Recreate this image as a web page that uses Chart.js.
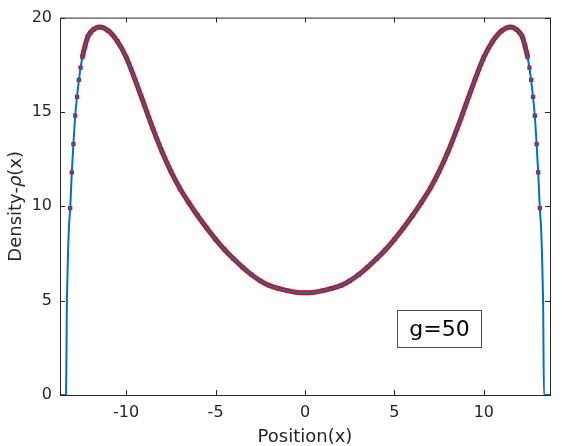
<!DOCTYPE html>
<html>
<head>
<meta charset="utf-8">
<script src="https://cdn.jsdelivr.net/npm/chart.js@4.4.1/dist/chart.umd.min.js"></script>
<style>
  html, body { margin: 0; padding: 0; background: #fff; }
  #wrap { width: 562px; height: 446px; }
</style>
</head>
<body>
<div id="wrap"><canvas id="chart" width="562" height="446"></canvas></div>
<script>
// solid curve (blue)
const xLine = [-13.7, -13.36, -13.32, -13.28, -13.24, -13.2, -13.13, -13.04, -12.95, -12.85, -12.75, -12.6, -12.45, -12.3, -12.15, -12.0, -11.85, -11.5, -11.0, -10.5, -10.0, -9.5, -9.0, -8.5, -8.0, -7.5, -7.0, -6.5, -6.0, -5.5, -5.0, -4.5, -4.0, -3.5, -3.0, -2.5, -2.0, -1.5, -1.0, -0.5, 0,
  0.5, 1.0, 1.5, 2.0, 2.5, 3.0, 3.5, 4.0, 4.5, 5.0, 5.5, 6.0, 6.5, 7.0, 7.5, 8.0, 8.5, 9.0, 9.5, 10.0, 10.5, 11.0, 11.5, 11.85, 12.0, 12.15, 12.3, 12.45, 12.6, 12.75, 12.85, 12.95, 13.04, 13.13, 13.2, 13.24, 13.28, 13.32, 13.36, 13.7];
const rhoLine = [0, 0, 4.5, 6.4, 7.9, 8.9, 9.9, 11.8, 13.3, 14.8, 15.8, 17.0, 17.9, 18.5, 18.98, 19.2, 19.35, 19.5, 19.3, 18.75, 17.9, 16.7, 15.4, 14.1, 12.9, 11.85, 10.95, 10.2, 9.5, 8.85, 8.25, 7.7, 7.22, 6.78, 6.38, 6.05, 5.8, 5.65, 5.53, 5.45, 5.42,
  5.45, 5.53, 5.65, 5.8, 6.05, 6.38, 6.78, 7.22, 7.7, 8.25, 8.85, 9.5, 10.2, 10.95, 11.85, 12.9, 14.1, 15.4, 16.7, 17.9, 18.75, 19.3, 19.5, 19.35, 19.2, 18.98, 18.5, 17.9, 17.0, 15.8, 14.8, 13.3, 11.8, 9.9, 8.9, 7.9, 6.4, 4.5, 0, 0];

// square markers (red)
const xMark = [-13.13, -13.04, -12.95, -12.85, -12.75, -12.65, -12.55, -12.45, -12.3, -12.15, -12.0, -11.85, -11.5, -11.0, -10.5, -10.0, -9.5, -9.0, -8.5, -8.0, -7.5, -7.0, -6.5, -6.0, -5.5, -5.0, -4.5, -4.0, -3.5, -3.0, -2.5, -2.0, -1.5, -1.0, -0.5, 0,
  0.5, 1.0, 1.5, 2.0, 2.5, 3.0, 3.5, 4.0, 4.5, 5.0, 5.5, 6.0, 6.5, 7.0, 7.5, 8.0, 8.5, 9.0, 9.5, 10.0, 10.5, 11.0, 11.5, 11.85, 12.0, 12.15, 12.3, 12.45, 12.55, 12.65, 12.75, 12.85, 12.95, 13.04, 13.13];
const rhoMark = [9.9, 11.8, 13.3, 14.8, 15.8, 16.7, 17.35, 17.9, 18.5, 18.98, 19.2, 19.35, 19.5, 19.3, 18.75, 17.9, 16.7, 15.4, 14.1, 12.9, 11.85, 10.95, 10.2, 9.5, 8.85, 8.25, 7.7, 7.22, 6.78, 6.38, 6.05, 5.8, 5.65, 5.53, 5.45, 5.42,
  5.45, 5.53, 5.65, 5.8, 6.05, 6.38, 6.78, 7.22, 7.7, 8.25, 8.85, 9.5, 10.2, 10.95, 11.85, 12.9, 14.1, 15.4, 16.7, 17.9, 18.75, 19.3, 19.5, 19.35, 19.2, 18.98, 18.5, 17.9, 17.35, 16.7, 15.8, 14.8, 13.3, 11.8, 9.9];

const xTicks = [-10, -5, 0, 5, 10];
const yTicks = [0, 5, 10, 15, 20];
const xRange = [-13.7, 13.7];
const yRange = [0, 20];
const label = 'g=50';
const labelBox = { x0: 5.13, x1: 9.85, y0: 2.57, y1: 4.5 };  // data units

const axisColor = '#262626';
const fontFam = '"DejaVu Sans", sans-serif';

// box, inward ticks, axis titles and the text box, MATLAB style
const matlabAxes = {
  id: 'matlabAxes',
  afterDatasetsDraw(chart) {
    const { ctx, chartArea: a, scales: { x, y } } = chart;
    ctx.save();
    ctx.strokeStyle = axisColor;
    ctx.lineWidth = 1;
    ctx.strokeRect(a.left + 0.5, a.top + 0.5, a.right - a.left, a.bottom - a.top);
    ctx.beginPath();
    xTicks.forEach(v => {
      const px = Math.round(x.getPixelForValue(v)) + 0.5;
      ctx.moveTo(px, a.bottom); ctx.lineTo(px, a.bottom - 5);
      ctx.moveTo(px, a.top); ctx.lineTo(px, a.top + 5);
    });
    yTicks.forEach(v => {
      const py = Math.round(y.getPixelForValue(v)) + 0.5;
      ctx.moveTo(a.left, py); ctx.lineTo(a.left + 5, py);
      ctx.moveTo(a.right, py); ctx.lineTo(a.right - 5, py);
    });
    ctx.stroke();

    // text box
    const bx0 = Math.round(x.getPixelForValue(labelBox.x0)) + 0.5;
    const bx1 = Math.round(x.getPixelForValue(labelBox.x1)) + 0.5;
    const by0 = Math.round(y.getPixelForValue(labelBox.y1)) + 0.5;
    const by1 = Math.round(y.getPixelForValue(labelBox.y0)) + 0.5;
    ctx.fillStyle = '#fff';
    ctx.fillRect(bx0, by0, bx1 - bx0, by1 - by0);
    ctx.strokeStyle = '#4d4d4d';
    ctx.strokeRect(bx0, by0, bx1 - bx0, by1 - by0);
    ctx.fillStyle = '#000';
    ctx.font = '22px ' + fontFam;
    ctx.textAlign = 'center';
    ctx.textBaseline = 'middle';
    ctx.fillText(label, (bx0 + bx1) / 2, (by0 + by1) / 2 + 1);

    // x title
    ctx.fillStyle = axisColor;
    ctx.font = '18px ' + fontFam;
    ctx.textBaseline = 'alphabetic';
    ctx.fillText('Position(x)', (a.left + a.right) / 2, 442);

    // y title with italic rho
    const parts = [['Density-', 'normal'], ['\u03c1', 'italic'], ['(x)', 'normal']];
    let total = 0;
    parts.forEach(p => { ctx.font = p[1] + ' 18px ' + fontFam; total += ctx.measureText(p[0]).width; });
    ctx.translate(21, (a.top + a.bottom) / 2);
    ctx.rotate(-Math.PI / 2);
    ctx.textAlign = 'left';
    let cx = -total / 2;
    parts.forEach(p => {
      ctx.font = p[1] + ' 18px ' + fontFam;
      ctx.fillText(p[0], cx, 0);
      cx += ctx.measureText(p[0]).width;
    });
    ctx.restore();
  }
};

new Chart(document.getElementById('chart'), {
  type: 'scatter',
  data: {
    datasets: [{
      label: 'markers',
      data: xMark.map((v, i) => ({ x: v, y: rhoMark[i] })),
      showLine: true,
      cubicInterpolationMode: 'monotone',
      borderColor: 'rgb(240,0,0)',
      borderWidth: 5,
      // dense markers merge into a band; at the steep edges they stand apart
      segment: {
        borderColor: c => (c.p0.parsed.x < -12.5 || c.p1.parsed.x > 12.5) ? 'rgba(0,0,0,0)' : undefined
      },
      pointStyle: 'rect',
      pointRadius: 3,
      pointBackgroundColor: 'rgb(235,0,0)',
      pointBorderWidth: 0,
      order: 2
    }, {
      label: 'curve',
      data: xLine.map((v, i) => ({ x: v, y: rhoLine[i] })),
      showLine: true,
      cubicInterpolationMode: 'monotone',
      borderColor: '#0072BD',
      borderWidth: 2,
      pointRadius: 0,
      order: 1
    }]
  },
  options: {
    responsive: false,
    animation: false,
    layout: { padding: { top: 16, right: 12, left: 0, bottom: 0 } },
    plugins: { legend: { display: false }, tooltip: { enabled: false } },
    scales: {
      x: {
        type: 'linear',
        min: xRange[0], max: xRange[1],
        grid: { display: false, drawTicks: false },
        border: { display: false },
        afterBuildTicks: s => { s.ticks = xTicks.map(v => ({ value: v })); },
        afterFit: s => { s.height = 51; },
        ticks: { color: axisColor, font: { family: fontFam, size: 16 }, padding: 8, maxRotation: 0 }
      },
      y: {
        type: 'linear',
        min: yRange[0], max: yRange[1],
        grid: { display: false, drawTicks: false },
        border: { display: false },
        afterBuildTicks: s => { s.ticks = yTicks.map(v => ({ value: v })); },
        afterFit: s => { s.width = 60; },
        ticks: { color: axisColor, font: { family: fontFam, size: 16 }, padding: 8 }
      }
    }
  },
  plugins: [matlabAxes]
});
</script>
</body>
</html>
